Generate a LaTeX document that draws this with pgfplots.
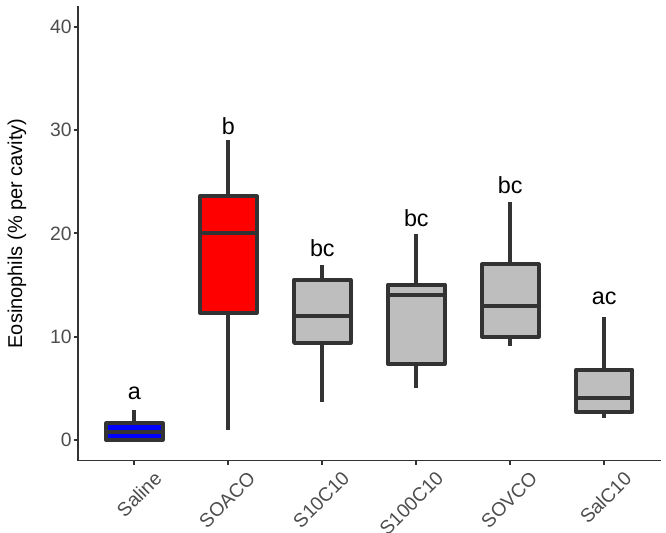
\documentclass[border=0pt]{standalone}
\usepackage{fontspec}
\setmainfont{Liberation Sans}
\usepackage{pgfplots}
\pgfplotsset{compat=1.18}
\usepgfplotslibrary{statistics}
\definecolor{boxline}{HTML}{333333}
\definecolor{ticklab}{HTML}{4D4D4D}
\definecolor{boxgray}{HTML}{BEBEBE}
\begin{document}
\begin{tikzpicture}
\path[use as bounding box] (-58.5pt,-54.3pt) rectangle (441pt,345.4pt);
\begin{axis}[
  at={(0,0)}, anchor=south west,
  scale only axis,
  width=437pt, height=340.7pt,
  xmin=0.4, xmax=6.6, ymin=-2, ymax=42,
  axis x line*=bottom, axis y line*=left,
  axis line style={boxline, line width=1.4pt, -},
  xtick={1,2,3,4,5,6},
  xticklabels={Saline,SOACO,S10C10,S100C10,SOVCO,SalC10},
  ytick={0,10,20,30,40},
  tick style={boxline, line width=1.4pt},
  tick align=outside, major tick length=3pt,
  /pgf/number format/assume math mode=true,
  tick label style={font=\fontsize{14.5pt}{17pt}\selectfont, text=ticklab},
  y tick label style={inner sep=1.5pt},
  x tick label style={xshift=14pt, yshift=-2.5pt, rotate=45, anchor=north east, inner sep=1pt},
  ylabel={Eosinophils (\% per cavity)},
  ylabel style={at={(axis description cs:-0.1047,0.5)}, anchor=center, rotate=0, font=\fontsize{15pt}{18pt}\selectfont, text=black},
  clip=false,
  boxplot/draw direction=y,
  every axis plot/.append style={line width=3pt, draw=boxline, line join=round},
]
\addplot[fill=blue, boxplot prepared={draw position=1, lower whisker=0, lower quartile=0, median=0.75, upper quartile=1.6, upper whisker=2.9, box extend=0.6, whisker extend=0}] coordinates {};
\addplot[fill=red, boxplot prepared={draw position=2, lower whisker=1.0, lower quartile=12.3, median=20.05, upper quartile=23.6, upper whisker=29.0, box extend=0.6, whisker extend=0}] coordinates {};
\addplot[fill=boxgray, boxplot prepared={draw position=3, lower whisker=3.7, lower quartile=9.4, median=12.0, upper quartile=15.5, upper whisker=16.9, box extend=0.6, whisker extend=0}] coordinates {};
\addplot[fill=boxgray, boxplot prepared={draw position=4, lower whisker=5.0, lower quartile=7.35, median=14.0, upper quartile=15.05, upper whisker=19.9, box extend=0.6, whisker extend=0}] coordinates {};
\addplot[fill=boxgray, boxplot prepared={draw position=5, lower whisker=9.05, lower quartile=10.0, median=13.0, upper quartile=17.0, upper whisker=23.0, box extend=0.6, whisker extend=0}] coordinates {};
\addplot[fill=boxgray, boxplot prepared={draw position=6, lower whisker=2.1, lower quartile=2.7, median=4.05, upper quartile=6.8, upper whisker=11.9, box extend=0.6, whisker extend=0}] coordinates {};
\begin{scope}[every node/.style={font=\fontsize{17.5pt}{20pt}\selectfont, text=black, inner sep=0pt}]
\node at (axis cs:1,4.5) {a};
\node at (axis cs:2,30.4) {b};
\node at (axis cs:3,18.6) {bc};
\node at (axis cs:4,21.5) {bc};
\node at (axis cs:5,24.7) {bc};
\node at (axis cs:6,13.7) {ac};
\end{scope}
\end{axis}
\end{tikzpicture}
\end{document}
